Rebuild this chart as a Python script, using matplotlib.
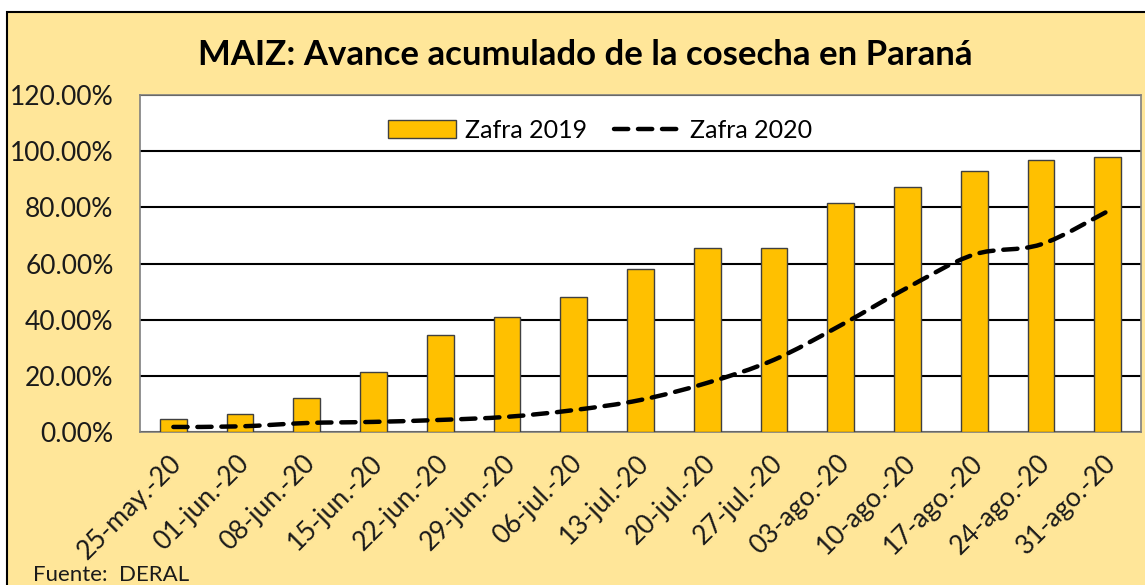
import matplotlib
matplotlib.use('Agg')
import matplotlib.pyplot as plt
from matplotlib.path import Path
from matplotlib.patches import PathPatch, Rectangle, Patch
from matplotlib.lines import Line2D
from matplotlib.ticker import FuncFormatter
from matplotlib.transforms import ScaledTranslation

plt.rcParams['font.family'] = ['Lato', 'DejaVu Sans']

# data (percent)
fechas = ["25-may.-20", "01-jun.-20", "08-jun.-20", "15-jun.-20", "22-jun.-20",
          "29-jun.-20", "06-jul.-20", "13-jul.-20", "20-jul.-20", "27-jul.-20",
          "03-ago.-20", "10-ago.-20", "17-ago.-20", "24-ago.-20", "31-ago.-20"]
zafra_2019 = [4.8, 6.5, 12.0, 21.4, 34.6, 41.0, 48.2, 58.2, 65.4, 65.4,
              81.4, 87.1, 93.0, 96.7, 98.0]
zafra_2020 = [1.8, 2.0, 3.2, 3.6, 4.3, 5.4, 7.8, 11.4, 17.5, 25.7,
              38.0, 51.4, 63.2, 66.8, 78.6]

W, H = 1145, 585
fig = plt.figure(figsize=(W/100, H/100), dpi=100)
fig.patch.set_facecolor('white')

# chart area background with border (top and left visible)
bg = Rectangle((7/W, -0.05), 1.0, 1 - 12/H + 0.05, transform=fig.transFigure,
               facecolor='#FFE699', edgecolor='black', linewidth=1.5, zorder=-10)
fig.patches.append(bg)

ax = fig.add_axes([140/W, (H-432)/H, 1001/W, 337/H])
ax.set_facecolor('white')

x = list(range(len(fechas)))
ax.bar(x, zafra_2019, width=0.4, color='#FFC000', edgecolor='#404040',
       linewidth=1.0, zorder=3)

# smoothed line (Catmull-Rom style bezier like Excel's smoothed line)
verts = [(x[0], zafra_2020[0])]
codes = [Path.MOVETO]
n = len(x)
for i in range(n - 1):
    p0 = (x[max(i-1, 0)], zafra_2020[max(i-1, 0)])
    p1 = (x[i], zafra_2020[i])
    p2 = (x[i+1], zafra_2020[i+1])
    p3 = (x[min(i+2, n-1)], zafra_2020[min(i+2, n-1)])
    c1 = (p1[0] + (p2[0]-p0[0])/6, p1[1] + (p2[1]-p0[1])/6)
    c2 = (p2[0] - (p3[0]-p1[0])/6, p2[1] - (p3[1]-p1[1])/6)
    verts += [c1, c2, p2]
    codes += [Path.CURVE4]*3
dash = (0, (3.2, 2.2))
line_style = dict(color='black', linewidth=3.2, linestyle=dash,
                  dash_capstyle='round')
pp = PathPatch(Path(verts, codes), facecolor='none', edgecolor='black',
               linewidth=3.2, linestyle=dash, capstyle='round', zorder=4)
ax.add_patch(pp)

ax.set_xlim(-0.5, n - 0.5)
ax.set_ylim(0, 120)
ax.set_yticks(range(0, 121, 20))
ax.yaxis.set_major_formatter(FuncFormatter(lambda v, p: f"{v:.2f}%"))
ax.grid(axis='y', color='black', linewidth=1.5, zorder=0)
ax.set_axisbelow(True)
for s in ax.spines.values():
    s.set_color('#7F7F7F')
    s.set_linewidth(1.2)
ax.tick_params(axis='both', length=0, labelsize=19, colors='#1a1a1a')
ax.tick_params(axis='y', pad=19)
ax.set_xticks(x)
ax.set_xticklabels(fechas, rotation=45, ha='right', rotation_mode='anchor')
ax.tick_params(axis='x', pad=13)
shift = ScaledTranslation(-4/100, 0, fig.dpi_scale_trans)
for lbl in ax.get_xticklabels():
    lbl.set_transform(lbl.get_transform() + shift)

handles = [Patch(facecolor='#FFC000', edgecolor='#404040', linewidth=1.0),
           Line2D([], [], **line_style)]
ax.legend(handles, ["Zafra 2019", "Zafra 2020"], loc='center',
          bbox_to_anchor=(0.46, 0.896), ncol=2, frameon=False, fontsize=18,
          handlelength=2.7, handleheight=0.7, columnspacing=1.1, handletextpad=0.35)

fig.text(585/W, 1 - 55/H, "MAIZ: Avance acumulado de la cosecha en Paraná",
         ha='center', va='center', fontsize=25, fontweight='bold', color='black')
fig.text(33/W, 1 - 575/H, "Fuente:  DERAL", ha='left', va='center',
         fontsize=16, color='#1a1a1a')

fig.savefig('out.png', dpi=100, facecolor=fig.get_facecolor())
